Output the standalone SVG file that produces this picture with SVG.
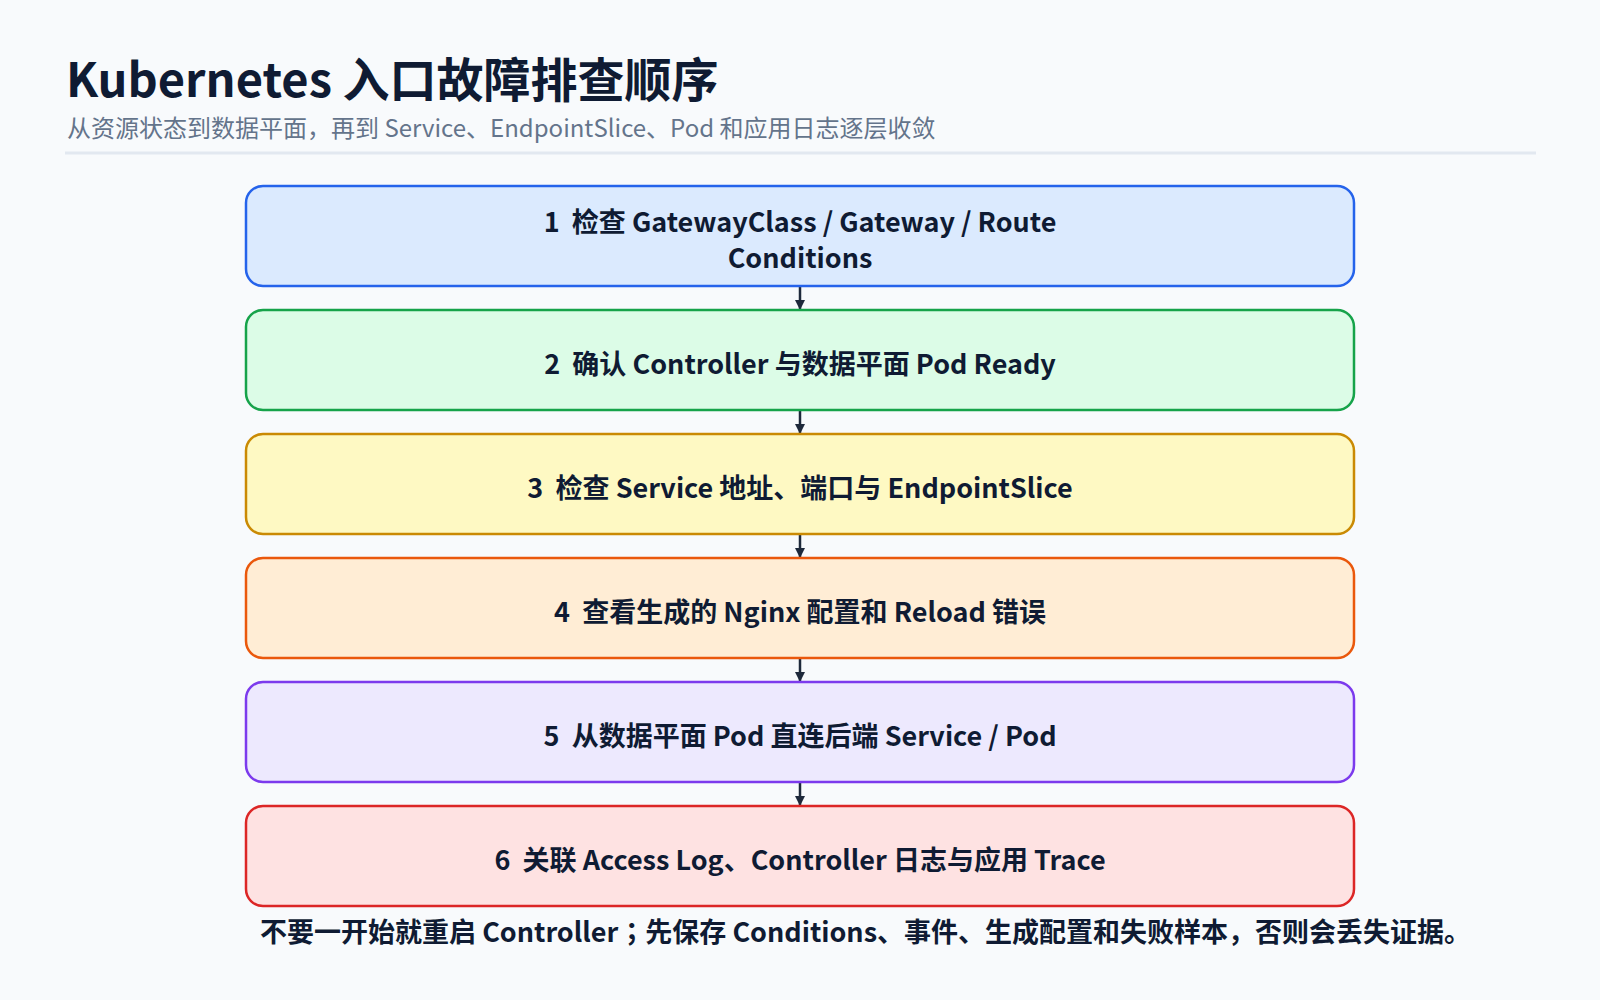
<svg xmlns="http://www.w3.org/2000/svg" width="1600" height="1000" viewBox="0 0 1600 1000">
<style>
text{font-family:"Noto Sans CJK SC","Noto Sans",sans-serif;}
.title{font-size:47px;font-weight:700;fill:#0f1b33;}
.sub{font-size:24px;font-weight:400;fill:#64748b;}
.box{stroke-width:2.5;}
.lbl{font-size:27px;font-weight:700;fill:#0f1b33;text-anchor:middle;}
.note{font-size:27px;font-weight:700;fill:#0f1b33;}
.conn{stroke:#1e293b;stroke-width:2.5;fill:none;}
</style>
<defs>
<marker id="ah" viewBox="0 0 10 10" refX="9" refY="5" markerWidth="4.2" markerHeight="5" markerUnits="strokeWidth" orient="auto">
<path d="M0,0 L10,5 L0,10 z" fill="#1e293b"/>
</marker>
</defs>
<rect width="1600" height="1000" fill="#f8fafc"/>
<text class="title" x="66" y="97">Kubernetes 入口故障排查顺序</text>
<text class="sub" x="67" y="137">从资源状态到数据平面，再到 Service、EndpointSlice、Pod 和应用日志逐层收敛</text>
<line x1="65" y1="153" x2="1536" y2="153" stroke="#e2e8f0" stroke-width="3"/>
<g id="connectors">
<line class="conn" x1="800" y1="287" x2="800" y2="309" marker-end="url(#ah)"/>
<line class="conn" x1="800" y1="411" x2="800" y2="433" marker-end="url(#ah)"/>
<line class="conn" x1="800" y1="535" x2="800" y2="557" marker-end="url(#ah)"/>
<line class="conn" x1="800" y1="659" x2="800" y2="681" marker-end="url(#ah)"/>
<line class="conn" x1="800" y1="783" x2="800" y2="805" marker-end="url(#ah)"/>
</g>
<g id="n1">
<rect class="box" x="246" y="186" width="1108" height="100" rx="17" fill="#dbeafe" stroke="#2563eb"/>
<text class="lbl" x="800" y="232" xml:space="preserve">1  检查 GatewayClass / Gateway / Route</text>
<text class="lbl" x="800" y="268">Conditions</text>
</g>
<g id="n2">
<rect class="box" x="246" y="310" width="1108" height="100" rx="17" fill="#dcfce7" stroke="#16a34a"/>
<text class="lbl" x="800" y="374" xml:space="preserve">2  确认 Controller 与数据平面 Pod Ready</text>
</g>
<g id="n3">
<rect class="box" x="246" y="434" width="1108" height="100" rx="17" fill="#fef9c3" stroke="#ca8a04"/>
<text class="lbl" x="800" y="498" xml:space="preserve">3  检查 Service 地址、端口与 EndpointSlice</text>
</g>
<g id="n4">
<rect class="box" x="246" y="558" width="1108" height="100" rx="17" fill="#ffedd5" stroke="#ea580c"/>
<text class="lbl" x="800" y="622" xml:space="preserve">4  查看生成的 Nginx 配置和 Reload 错误</text>
</g>
<g id="n5">
<rect class="box" x="246" y="682" width="1108" height="100" rx="17" fill="#ede9fe" stroke="#7c3aed"/>
<text class="lbl" x="800" y="746" xml:space="preserve">5  从数据平面 Pod 直连后端 Service / Pod</text>
</g>
<g id="n6">
<rect class="box" x="246" y="806" width="1108" height="100" rx="17" fill="#fee2e2" stroke="#dc2626"/>
<text class="lbl" x="800" y="870" xml:space="preserve">6  关联 Access Log、Controller 日志与应用 Trace</text>
</g>
<text class="note" x="260" y="942">不要一开始就重启 Controller<tspan font-family="Noto Sans CJK JP, sans-serif">；</tspan>先保存 Conditions、事件、生成配置和失败样本，否则会丢失证据。</text>
</svg>
